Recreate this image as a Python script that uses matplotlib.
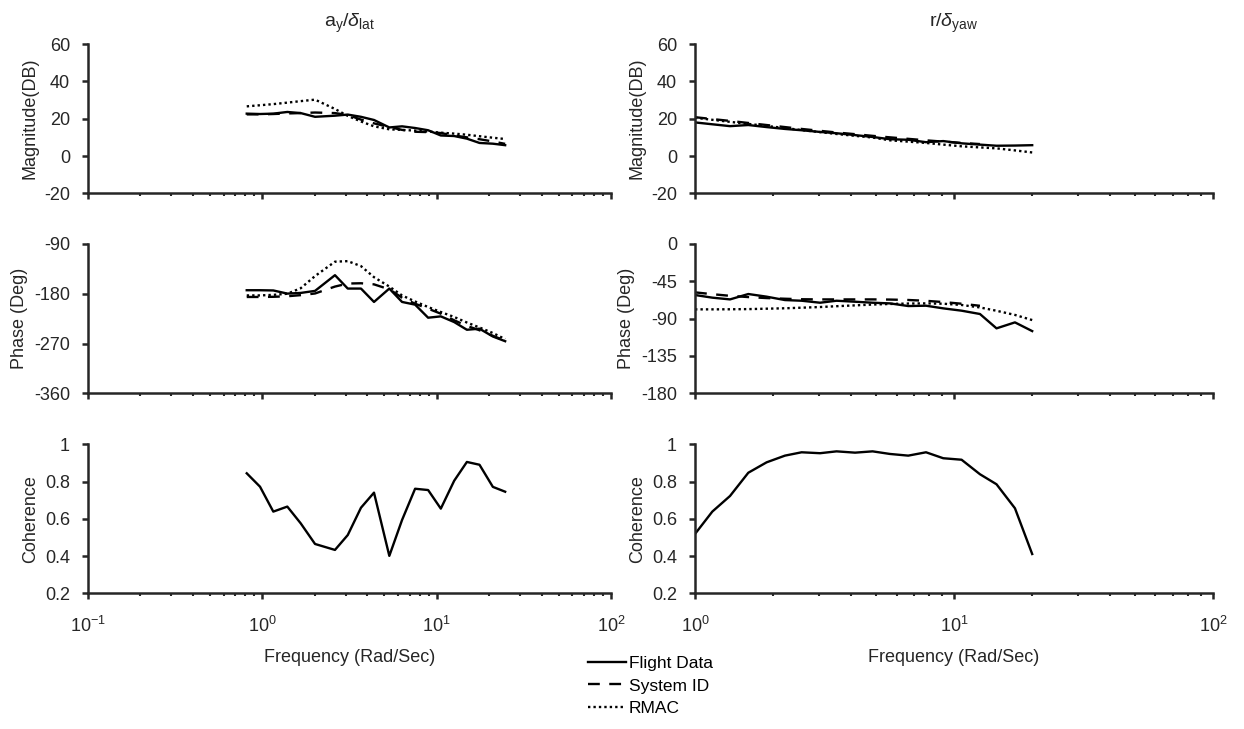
"""Bode plots - flight data vs System ID vs RMAC"""
import numpy as np
import matplotlib
matplotlib.use('Agg')
import matplotlib.pyplot as plt
from matplotlib.ticker import LogLocator, NullFormatter, LogFormatterMathtext

plt.rcParams['font.family'] = ['Liberation Sans', 'DejaVu Sans']
plt.rcParams['mathtext.fontset'] = 'custom'
plt.rcParams['mathtext.rm'] = 'Liberation Sans'
plt.rcParams['mathtext.it'] = 'Liberation Sans:italic'
plt.rcParams['mathtext.bf'] = 'Liberation Sans:bold'
plt.rcParams['axes.unicode_minus'] = False

_INK = '#262626'
_FS = 13

# ---- lateral: a_y / delta_lat ----
freq_lat = [0.814, 0.970, 1.156, 1.391, 1.66, 2.006, 2.61, 3.09, 3.68, 4.37,
            5.35, 6.33, 7.52, 8.93, 10.56, 12.6, 14.9, 17.6, 21.0, 24.7]
mag_lat_flight = [22.7, 22.5, 22.7, 23.6, 23.0, 21.0, 21.6, 22.2, 21.0, 19.3,
                  15.3, 15.9, 15.0, 13.8, 11.0, 10.7, 9.3, 7.0, 6.6, 5.8]
mag_lat_sysid = [22.3, 22.3, 22.5, 22.8, 23.0, 23.3, 23.0, 22.0, 19.5, 17.5,
                 15.5, 14.0, 13.0, 12.8, 12.3, 11.0, 10.0, 9.0, 7.8, 6.5]
mag_lat_rmac = [26.6, 27.2, 27.8, 28.6, 29.4, 30.2, 25.2, 21.5, 18.5, 15.9,
                14.3, 14.0, 13.6, 13.1, 12.5, 12.0, 11.4, 10.6, 9.8, 9.1]
ph_lat_flight = [-173.6, -173.6, -174.0, -179.7, -178.5, -174.8, -146.4, -170.6, -170.6, -194.8,
                 -170.6, -194.8, -199.7, -223.3, -220.9, -231.2, -245.1, -243.2, -257.3, -265.8]
ph_lat_sysid = [-185.8, -185.8, -185.5, -184.5, -182.5, -179.5, -167.0, -161.5, -161.0, -163.0,
                -172.0, -187.0, -198.0, -207.0, -216.0, -228.0, -238.0, -246.0, -256.0, -265.0]
ph_lat_rmac = [-183.0, -183.0, -182.0, -180.0, -170.0, -148.0, -122.0, -121.0, -130.0, -150.0,
               -167.0, -183.0, -194.0, -204.0, -213.0, -222.0, -232.0, -241.0, -251.0, -262.0]
coh_lat = [0.845, 0.773, 0.639, 0.666, 0.576, 0.465, 0.433, 0.513, 0.660, 0.741,
           0.401, 0.594, 0.762, 0.755, 0.655, 0.805, 0.906, 0.891, 0.772, 0.746]

# ---- yaw: r / delta_yaw ----
freq_yaw = [1.0, 1.166, 1.365, 1.606, 1.89, 2.225, 2.58, 3.04, 3.52, 4.15,
            4.85, 5.66, 6.66, 7.80, 9.09, 10.7, 12.6, 14.6, 17.2, 20.05]
mag_yaw_flight = [18.0, 17.0, 16.0, 16.6, 15.5, 14.5, 13.8, 12.9, 12.2, 11.2,
                  10.2, 9.0, 8.7, 7.4, 8.0, 6.8, 6.1, 5.5, 5.6, 5.8]
mag_yaw_sysid = [20.8, 19.8, 18.8, 17.7, 16.6, 15.5, 14.5, 13.5, 12.6, 11.7,
                 10.8, 10.0, 9.2, 8.4, 7.7, 7.0, 6.4, np.nan, np.nan, np.nan]
mag_yaw_rmac = [20.5, 19.4, 18.3, 17.2, 16.1, 15.0, 13.9, 12.8, 11.8, 10.8,
                9.9, 8.4, 7.7, 7.0, 6.1, 5.2, 4.6, 4.1, 3.0, 1.9]
ph_yaw_flight = [-61.5, -64.7, -66.8, -60.3, -63.5, -67.6, -68.4, -70.8, -68.4, -69.6,
                 -70.8, -71.6, -74.8, -74.4, -77.6, -80.4, -84.4, -101.7, -94.5, -105.0]
ph_yaw_sysid = [-58.3, -60.5, -62.5, -64.0, -65.2, -66.0, -66.6, -66.8, -66.8, -66.8,
                -66.8, -67.0, -67.5, -68.5, -70.0, -72.0, -74.5, np.nan, np.nan, np.nan]
ph_yaw_rmac = [-78.8, -78.8, -78.7, -78.5, -78.0, -77.5, -76.8, -76.0, -75.0, -74.0,
               -73.0, -72.3, -71.8, -71.6, -72.0, -73.5, -76.5, -80.5, -85.5, -91.7]
coh_yaw = [0.519, 0.639, 0.723, 0.848, 0.904, 0.940, 0.958, 0.953, 0.963, 0.956,
           0.963, 0.949, 0.940, 0.958, 0.926, 0.918, 0.840, 0.786, 0.657, 0.411]

_SOLID = dict(color='black', lw=1.7, linestyle='-')
_DASH = dict(color='black', lw=1.7, linestyle=(0, (5, 4)))
_DOT = dict(color='black', lw=1.7, linestyle=(0, (1, 1.3)))


def style_axis(ax, xlim, show_xlabels):
    ax.set_xscale('log')
    ax.set_xlim(*xlim)
    ax.spines['top'].set_visible(False)
    ax.spines['right'].set_visible(False)
    for s in ('left', 'bottom'):
        ax.spines[s].set_linewidth(1.8)
        ax.spines[s].set_color(_INK)
    ax.xaxis.set_major_locator(LogLocator(base=10, numticks=10))
    ax.xaxis.set_minor_locator(LogLocator(base=10, subs=np.arange(2, 10), numticks=10))
    ax.xaxis.set_minor_formatter(NullFormatter())
    ax.tick_params(which='major', direction='out', length=4, width=1.8, color=_INK,
                   labelsize=_FS, labelcolor=_INK)
    ax.tick_params(axis='y', which='major', pad=9)
    ax.tick_params(which='minor', direction='out', length=2.5, width=1.5, color=_INK)
    ax.tick_params(axis='y', which='minor', left=False)
    if show_xlabels:
        ax.xaxis.set_major_formatter(LogFormatterMathtext())
        ax.tick_params(axis='x', which='major', pad=12)
        ax.set_xlabel('Frequency (Rad/Sec)', fontsize=_FS, color=_INK, labelpad=10)
    else:
        ax.tick_params(axis='x', labelbottom=False)


fig = plt.figure(figsize=(12.44, 7.29), dpi=100)

cols = [(0.0707, 0.4205), (0.5587, 0.4163)]
rows = [(0.7348, 0.2048), (0.4605, 0.2048), (0.1862, 0.2041)]

datasets = [
    dict(freq=freq_lat, mag=(mag_lat_flight, mag_lat_sysid, mag_lat_rmac),
         ph=(ph_lat_flight, ph_lat_sysid, ph_lat_rmac), coh=coh_lat,
         xlim=(0.1, 100), phlim=(-360, -90), phticks=[-360, -270, -180, -90],
         title=r'a$_\mathregular{y}$/$\delta_\mathregular{lat}$'),
    dict(freq=freq_yaw, mag=(mag_yaw_flight, mag_yaw_sysid, mag_yaw_rmac),
         ph=(ph_yaw_flight, ph_yaw_sysid, ph_yaw_rmac), coh=coh_yaw,
         xlim=(1, 100), phlim=(-180, 0), phticks=[-180, -135, -90, -45, 0],
         title=r'r/$\delta_\mathregular{yaw}$'),
]

handles = None
for (x0, w), d in zip(cols, datasets):
    f = d['freq']
    ax_mag = fig.add_axes([x0, rows[0][0], w, rows[0][1]])
    l1, = ax_mag.plot(f, d['mag'][0], **_SOLID)
    l2, = ax_mag.plot(f, d['mag'][1], **_DASH)
    l3, = ax_mag.plot(f, d['mag'][2], **_DOT)
    handles = [l1, l2, l3]
    style_axis(ax_mag, d['xlim'], False)
    ax_mag.set_ylim(-20, 60)
    ax_mag.set_yticks([-20, 0, 20, 40, 60])
    ax_mag.set_ylabel('Magnitude(DB)', fontsize=_FS, color=_INK, labelpad=4)
    ax_mag.set_title(d['title'], fontsize=14, color=_INK, pad=12)

    ax_ph = fig.add_axes([x0, rows[1][0], w, rows[1][1]])
    ax_ph.plot(f, d['ph'][0], **_SOLID)
    ax_ph.plot(f, d['ph'][1], **_DASH)
    ax_ph.plot(f, d['ph'][2], **_DOT)
    style_axis(ax_ph, d['xlim'], False)
    ax_ph.set_ylim(*d['phlim'])
    ax_ph.set_yticks(d['phticks'])
    ax_ph.set_ylabel('Phase (Deg)', fontsize=_FS, color=_INK, labelpad=4)

    ax_coh = fig.add_axes([x0, rows[2][0], w, rows[2][1]])
    ax_coh.plot(f, d['coh'], **_SOLID)
    style_axis(ax_coh, d['xlim'], True)
    ax_coh.set_ylim(0.2, 1.0)
    ax_coh.set_yticks([0.2, 0.4, 0.6, 0.8, 1.0])
    ax_coh.set_yticklabels(['0.2', '0.4', '0.6', '0.8', '1'])
    ax_coh.set_ylabel('Coherence', fontsize=_FS, color=_INK, labelpad=4)

fig.legend(handles, ['Flight Data', 'System ID', 'RMAC'], loc='center',
           bbox_to_anchor=(0.523, 0.059), frameon=False, fontsize=12.5,
           handlelength=2.2, handletextpad=0.15, labelspacing=0.4, labelcolor='black')

plt.savefig('out.png', dpi=100)
plt.close(fig)
